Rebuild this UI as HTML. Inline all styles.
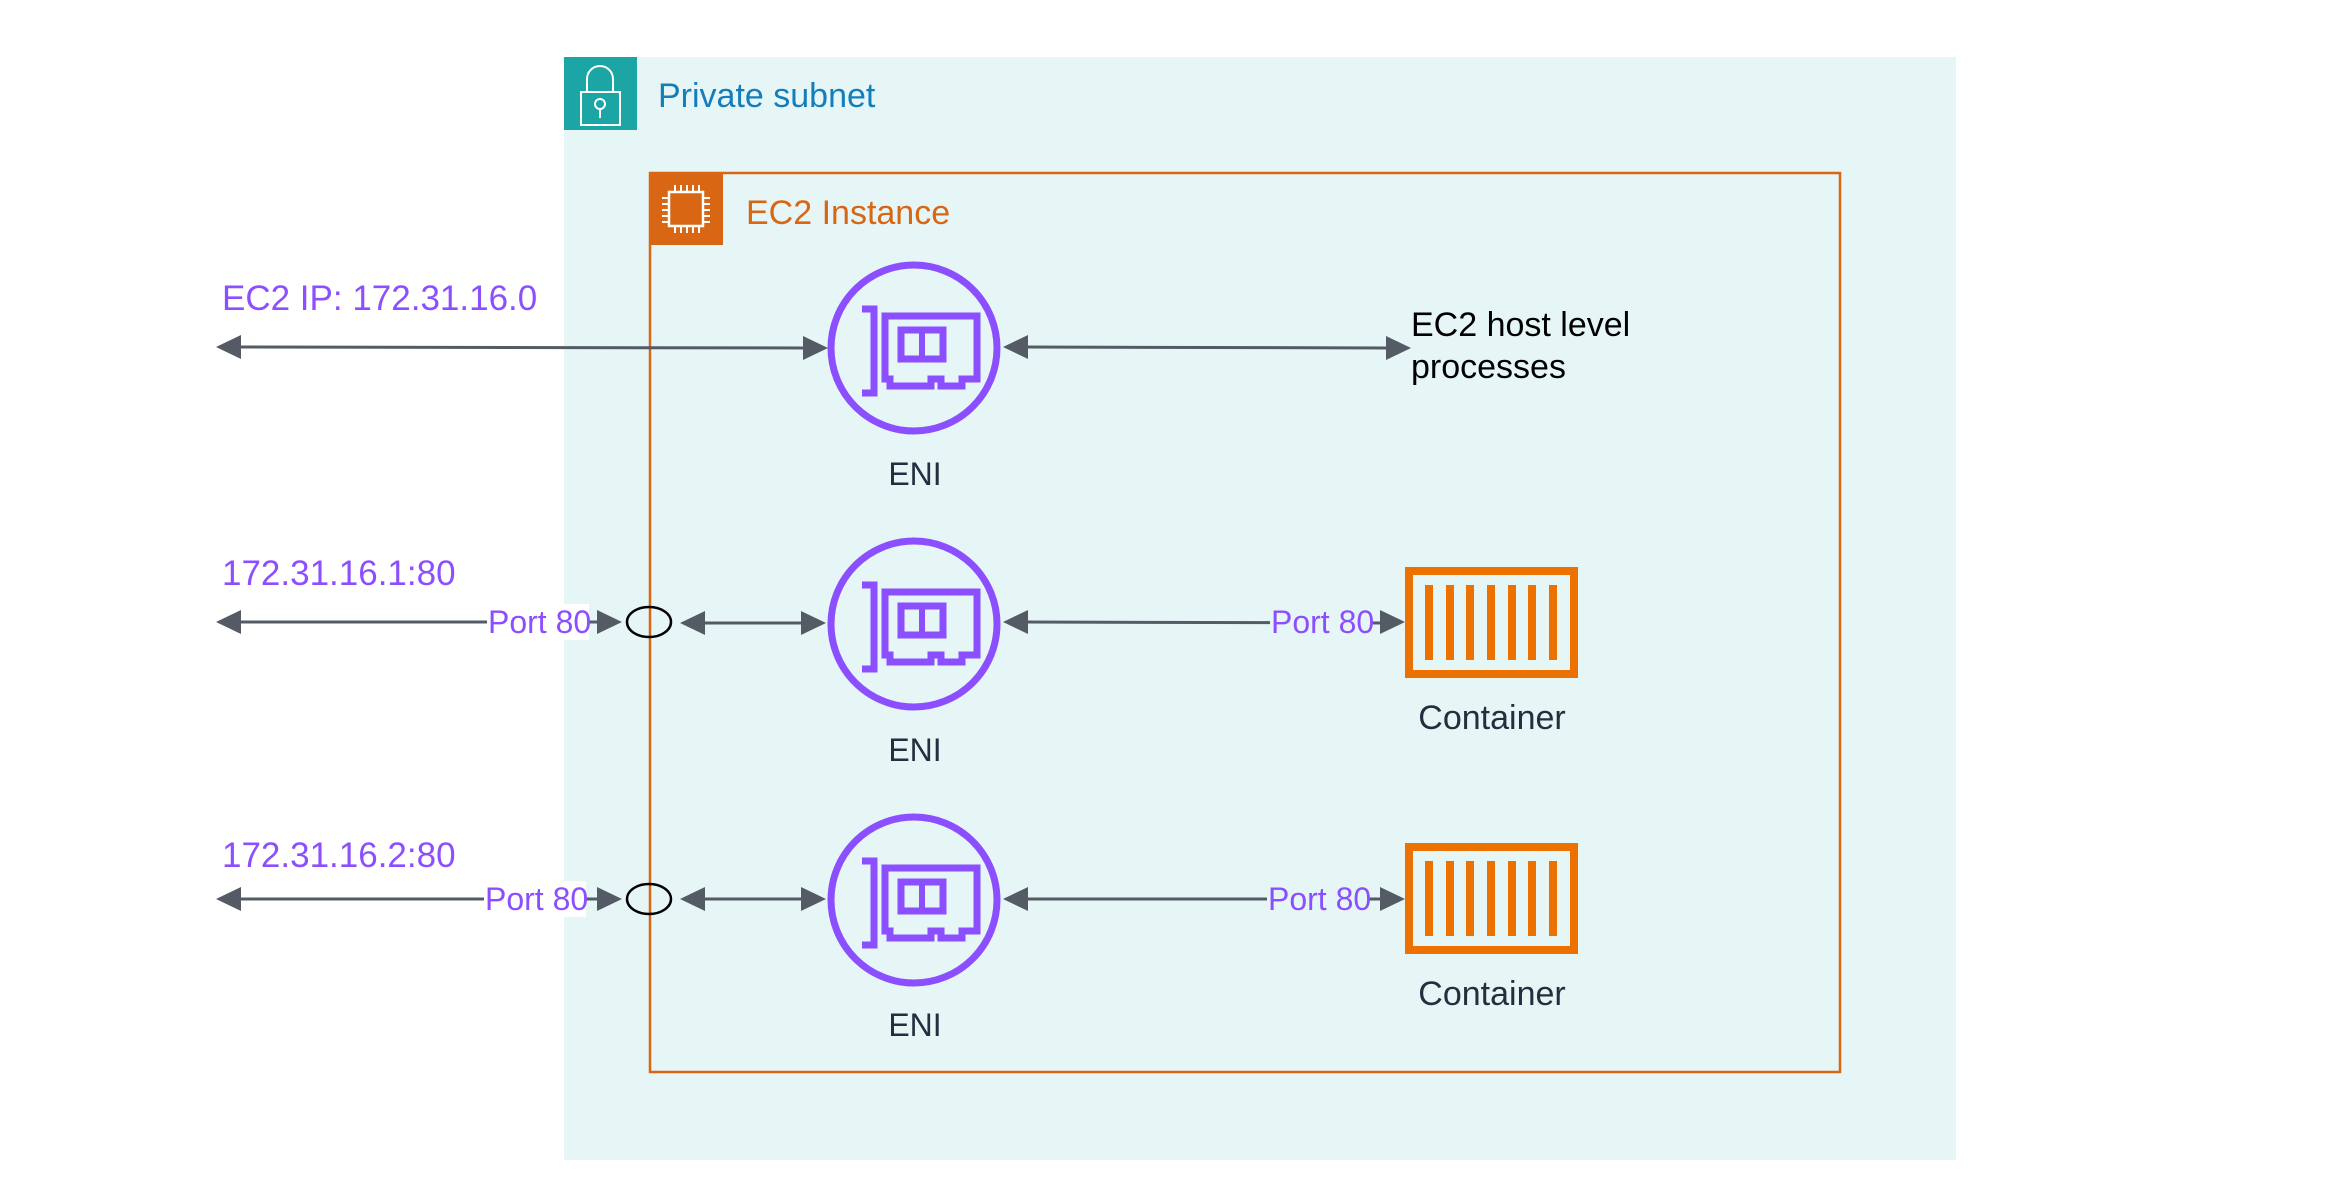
<!DOCTYPE html>
<html><head><meta charset="utf-8"><style>
html,body{margin:0;padding:0;background:#fff;}
svg{display:block;font-family:"Liberation Sans",Arial,sans-serif;}
</style></head><body>
<svg width="2336" height="1194" viewBox="0 0 2336 1194" xmlns="http://www.w3.org/2000/svg">
<defs>
<g id="eni">
<circle cx="0" cy="0" r="83" fill="none" stroke="#8C4FFF" stroke-width="7"/>
<path d="M-52,-39 H-40 V45 H-52" fill="none" stroke="#8C4FFF" stroke-width="7"/>
<path d="M-29,-32 H63 V31 H48 V38 H27 V31 H17 V38 H-24 V31 H-29 Z" fill="none" stroke="#8C4FFF" stroke-width="7"/>
<rect x="-13" y="-18" width="42" height="29" fill="none" stroke="#8C4FFF" stroke-width="7"/>
<line x1="8" y1="-18" x2="8" y2="11" stroke="#8C4FFF" stroke-width="6"/>
</g>
<g id="cont">
<rect x="4" y="4" width="165" height="103" fill="none" stroke="#ED7100" stroke-width="8"/>
<g stroke="#ED7100" stroke-width="8">
<line x1="24" y1="18" x2="24" y2="93"/><line x1="45" y1="18" x2="45" y2="93"/><line x1="65" y1="18" x2="65" y2="93"/><line x1="86" y1="18" x2="86" y2="93"/><line x1="107" y1="18" x2="107" y2="93"/><line x1="127" y1="18" x2="127" y2="93"/><line x1="148" y1="18" x2="148" y2="93"/>
</g>
</g>
</defs>
<rect x="564" y="57" width="1392" height="1103" fill="#E6F6F7"/>
<rect x="564" y="57" width="73" height="73" fill="#1BA5A5"/>
<path d="M587,92 V79 a13,13 0 0 1 26,0 V92" fill="none" stroke="#fff" stroke-width="2"/>
<rect x="581" y="92" width="39" height="33" fill="none" stroke="#fff" stroke-width="2"/>
<circle cx="600" cy="104" r="5" fill="none" stroke="#fff" stroke-width="2"/>
<line x1="600" y1="109" x2="600" y2="118" stroke="#fff" stroke-width="2"/>
<text x="658" y="107" font-size="34" fill="#147EBA">Private subnet</text>
<rect x="650" y="173" width="1190" height="899" fill="none" stroke="#D86613" stroke-width="2.5"/>
<rect x="649" y="172" width="74" height="73" fill="#D86613"/>
<rect x="669" y="192" width="34" height="34" fill="none" stroke="#fff" stroke-width="2.5"/>
<g stroke="#fff" stroke-width="2">
<path d="M675,185v7M681,185v7M687,185v7M693,185v7M699,185v7M675,226v7M681,226v7M687,226v7M693,226v7M699,226v7M662,198h7M662,204h7M662,210h7M662,216h7M662,222h7M703,198h7M703,204h7M703,210h7M703,216h7M703,222h7"/>
</g>
<text x="746" y="224" font-size="34" fill="#D86613">EC2 Instance</text>
<use href="#eni" x="914" y="348"/>
<use href="#eni" x="914" y="624"/>
<use href="#eni" x="914" y="900"/>
<g font-size="32" fill="#232F3E" text-anchor="middle">
<text x="915" y="485">ENI</text><text x="915" y="761">ENI</text><text x="915" y="1036">ENI</text>
</g>
<g font-size="34" fill="#232F3E" text-anchor="middle">
<text x="1492" y="729">Container</text><text x="1492" y="1005">Container</text>
</g>
<use href="#cont" x="1405" y="567"/>
<use href="#cont" x="1405" y="843"/>
<g font-size="35" fill="#8C4FFF">
<text x="222" y="310">EC2 IP: 172.31.16.0</text>
<text x="222" y="585">172.31.16.1:80</text>
<text x="222" y="867">172.31.16.2:80</text>
</g>
<g font-size="34" fill="#000">
<text x="1411" y="336">EC2 host level</text>
<text x="1411" y="378">processes</text>
</g>
<g stroke="#545B64" stroke-width="3" fill="none">
<line x1="236" y1="347" x2="806" y2="348"/>
<line x1="1024" y1="347" x2="1388" y2="348"/>
<line x1="236" y1="622" x2="604" y2="622"/>
<line x1="700" y1="623" x2="806" y2="623"/>
<line x1="1024" y1="622" x2="1384" y2="623"/>
<line x1="236" y1="899" x2="604" y2="899"/>
<line x1="700" y1="899" x2="806" y2="899"/>
<line x1="1024" y1="899" x2="1384" y2="899"/>
</g>
<g fill="#545B64">
<path d="M216,347 l25,-12 v24z"/><path d="M828,348 l-25,-12 v24z"/>
<path d="M1003,347 l25,-12 v24z"/><path d="M1411,348 l-25,-12 v24z"/>
<path d="M216,622 l25,-12 v24z"/><path d="M622,622 l-25,-12 v24z"/>
<path d="M680,623 l25,-12 v24z"/><path d="M826,623 l-25,-12 v24z"/>
<path d="M1003,622 l25,-12 v24z"/><path d="M1405,622 l-25,-12 v24z"/>
<path d="M216,899 l25,-12 v24z"/><path d="M622,899 l-25,-12 v24z"/>
<path d="M680,899 l25,-12 v24z"/><path d="M826,899 l-25,-12 v24z"/>
<path d="M1003,899 l25,-12 v24z"/><path d="M1405,899 l-25,-12 v24z"/>
</g>
<ellipse cx="649" cy="622" rx="22" ry="15" fill="none" stroke="#000" stroke-width="2.5"/>
<ellipse cx="649" cy="899" rx="22" ry="15" fill="none" stroke="#000" stroke-width="2.5"/>
<rect x="487" y="604" width="102" height="36" fill="#fff"/>
<rect x="484" y="881" width="102" height="36" fill="#fff"/>
<rect x="1270" y="604" width="102" height="36" fill="#E6F6F7"/>
<rect x="1267" y="881" width="102" height="36" fill="#E6F6F7"/>
<g font-size="32" fill="#8C4FFF">
<text x="488" y="633">Port 80</text>
<text x="485" y="910">Port 80</text>
<text x="1271" y="633">Port 80</text>
<text x="1268" y="910">Port 80</text>
</g>
</svg>
</body></html>
